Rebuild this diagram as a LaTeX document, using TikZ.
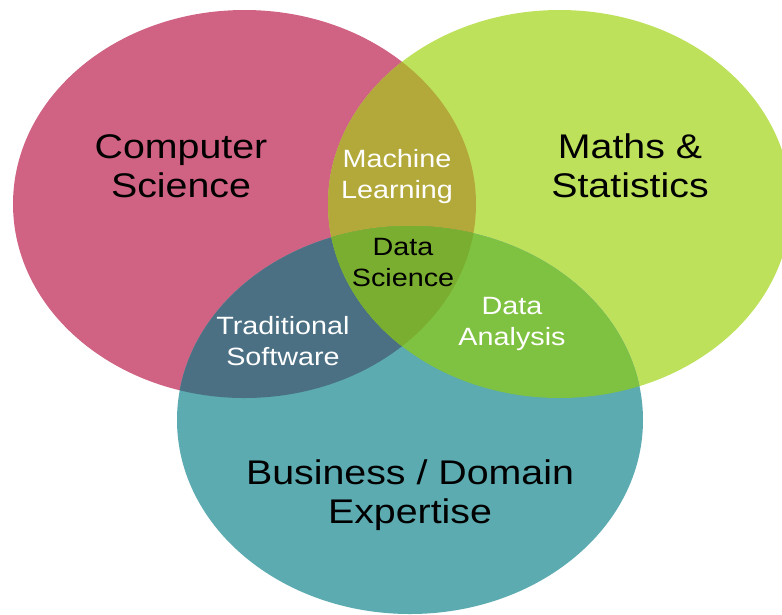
\documentclass[tikz,border=0pt]{standalone}
\usepackage{fontspec}
\setmainfont{Liberation Sans}[FakeStretch=1.15]
\definecolor{cspink}{HTML}{D06283}
\definecolor{msgreen}{HTML}{BEE15C}
\definecolor{bdteal}{HTML}{5BABB1}
\definecolor{mlolive}{HTML}{B2A93A}
\definecolor{tsblue}{HTML}{4B7084}
\definecolor{dagreen}{HTML}{7FC140}
\definecolor{dsgreen}{HTML}{7AAE30}
\tikzset{
  biglabel/.style={align=center, anchor=base, text=black, font=\fontsize{34.2}{38.5}\selectfont, inner sep=0pt},
  smalllabel/.style={align=center, anchor=base, font=\fontsize{25}{30.5}\selectfont, inner sep=0pt},
}
\def\pinkpath{(244.5,204) ellipse [x radius=231.5, y radius=194]}
\def\greenpath{(559.5,204) ellipse [x radius=231.5, y radius=194]}
\def\tealpath{(410,420) ellipse [x radius=233, y radius=194]}
\begin{document}
\begin{tikzpicture}[x=1pt, y=-1pt]
  \useasboundingbox (0,0) rectangle (782,614);
  \clip (0,0) rectangle (782,614);
  \fill[cspink] \pinkpath;
  \fill[msgreen] \greenpath;
  \fill[bdteal] \tealpath;
  \begin{scope}
    \clip \pinkpath;
    \fill[mlolive] \greenpath;
    \fill[tsblue] \tealpath;
    \clip \greenpath;
    \fill[dsgreen] \tealpath;
  \end{scope}
  \begin{scope}
    \clip \greenpath;
    \clip \tealpath;
    \fill[dagreen] (0,0) rectangle (782,614);
    \clip \pinkpath;
    \fill[dsgreen] (0,0) rectangle (782,614);
  \end{scope}
  \node[biglabel] (cs) at (181,197) {Computer\\Science};
  \node[biglabel] (ms) at (630,197) {Maths \&\\Statistics};
  \node[biglabel] (bd) at (410,523) {Business / Domain\\Expertise};
  \node[smalllabel, text=white] (ml) at (397,198) {Machine\\Learning};
  \node[smalllabel, text=black] (ds) at (403,286) {Data\\Science};
  \node[smalllabel, text=white] (ts) at (283,365) {Traditional\\Software};
  \node[smalllabel, text=white] (da) at (512,345) {Data\\Analysis};
\end{tikzpicture}
\end{document}
